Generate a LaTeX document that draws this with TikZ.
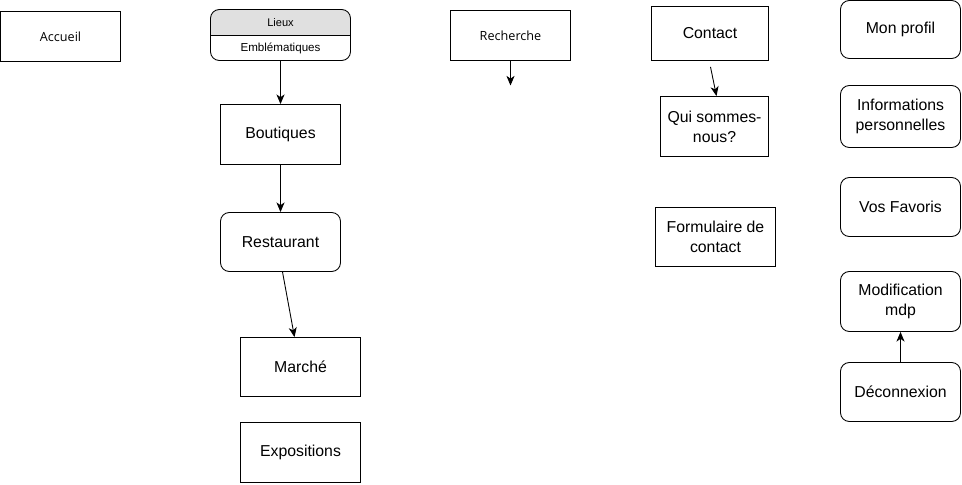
\documentclass[tikz,border=0pt]{standalone}
\usepackage{fontspec}
\setmainfont{Liberation Sans}
\newfontfamily\opensans{Open Sans}
\usetikzlibrary{arrows.meta}
\definecolor{headgray}{RGB}{224,224,224}

\begin{document}
\begin{tikzpicture}[x=0.02cm,y=-0.02cm,
  box/.style={draw,line width=0.5pt,inner sep=0pt,align=center,minimum width=2.4cm,minimum height=1.2cm,font=\fontsize{9}{11.3}\selectfont},
  rbox/.style={box,rounded corners=5pt},
  smalltext/.style={font=\opensans\fontsize{7.2}{9}\selectfont},
  headtext/.style={inner sep=0pt,font=\fontsize{6.6}{8}\selectfont},
  link/.style={-{Stealth[length=5.5pt,width=4.6pt,inset=1.6pt]},line width=0.5pt}]

\useasboundingbox (0,0) rectangle (962,484);

\begin{scope}[shift={(0.5,0.5)}]
\node[box,smalltext,minimum height=1cm] (accueil) at (60,36) {Accueil};

\begin{scope}
\clip (209,8) rectangle (351,35);
\fill[headgray,rounded corners=5pt] (210,9) rectangle (350,60);
\end{scope}
\node[rbox,minimum width=2.8cm,minimum height=1.02cm] (lieux) at (280,34.5) {};
\draw[line width=0.5pt] (lieux.west |- 0,35) -- (lieux.east |- 0,35);
\node[headtext,font=\fontsize{6.3}{8}\selectfont] (lieuxhead) at (280,22) {Lieux};
\node[headtext] (lieuxbody) at (280,48) {Emblématiques};

\node[box] (boutiques) at (280,134) {Boutiques};
\node[rbox,minimum height=1.18cm] (restaurant) at (280,241.5) {Restaurant};
\node[box,minimum height=1.18cm] (marche) at (300,366.5) {Marché};
\node[box] (expos) at (300,452) {Expositions};

\node[box,smalltext,minimum height=1cm] (recherche) at (510,35) {Recherche};
\coordinate (rechend) at (510,85);

\node[box,minimum width=2.34cm,minimum height=1.08cm] (contact) at (709.5,33) {Contact};
\node[box,minimum width=2.16cm] (qui) at (714,126) {Qui sommes-\\nous?};
\node[box,minimum height=1.18cm] (formulaire) at (715,236.5) {Formulaire de\\contact};

\node[rbox,minimum height=1.16cm] (profil) at (900,29) {Mon profil};
\node[rbox,minimum height=1.24cm] (infos) at (900,116) {Informations\\personnelles};
\node[rbox,minimum height=1.18cm] (favoris) at (900,206.5) {Vos Favoris};
\node[rbox] (modif) at (900,301) {Modification\\mdp};
\node[rbox,minimum height=1.18cm] (deco) at (900,391.5) {Déconnexion};

\draw[link] (lieux.south) -- (boutiques.north);
\draw[link] (boutiques.south) -- (restaurant.north);
\draw[link] ([shift={(2,0)}]restaurant.south) -- ([shift={(-6,0)}]marche.north);
\draw[link] (recherche.south) -- (rechend);
\draw[link] ([shift={(0.5,6)}]contact.south) -- ([shift={(2,0)}]qui.north);
\draw[link] (deco.north) -- (modif.south);
\end{scope}
\end{tikzpicture}
\end{document}
